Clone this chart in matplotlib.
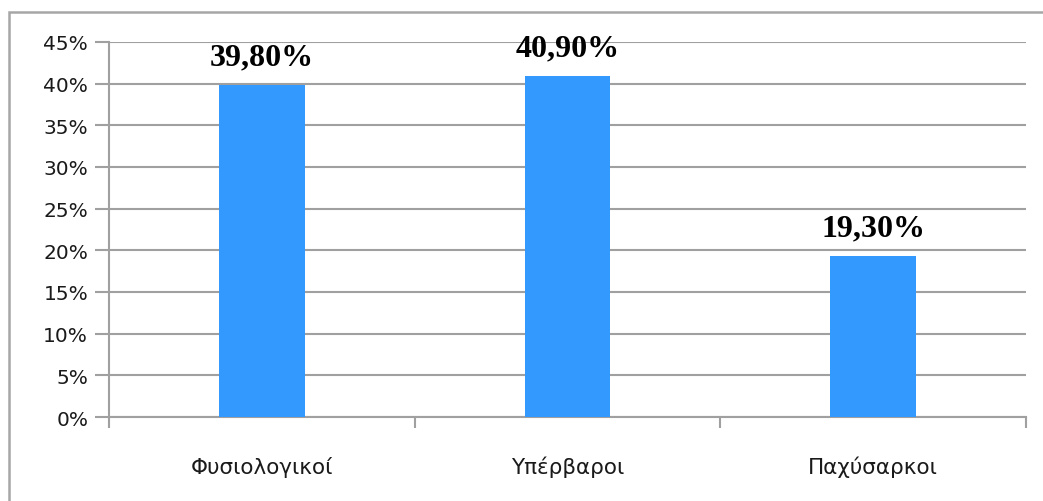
import matplotlib
matplotlib.use('Agg')
import matplotlib.pyplot as plt
from matplotlib.patches import Rectangle
from matplotlib.ticker import MultipleLocator, FuncFormatter, FixedLocator

# categories and shares (percent)
categories = ['Φυσιολογικοί', 'Υπέρβαροι', 'Παχύσαρκοι']
values = [39.8, 40.9, 19.3]
value_labels = ['39,80%', '40,90%', '19,30%']

bar_color = '#3399ff'
grid_color = '#a0a0a0'

fig = plt.figure(figsize=(10.43, 5.02), dpi=100)
ax = fig.add_axes([109 / 1043, 1 - 418 / 502, (1026 - 109) / 1043, (418 - 43) / 502])

# outer frame of the chart area
fig.patches.append(Rectangle((9 / 1043, -0.1), 1.2, 1 - 13 / 502 + 0.1,
                             transform=fig.transFigure, fill=False,
                             edgecolor='#a6a6a6', linewidth=1.8))

x = list(range(len(categories)))
ax.bar(x, values, width=0.28, color=bar_color, zorder=3)

for xi, v, lab in zip(x, values, value_labels):
    ax.annotate(lab, (xi, v), xytext=(0, 15), textcoords='offset points',
                ha='center', va='baseline', fontsize=23, fontweight='bold',
                family='Liberation Serif', color='black')

ax.set_xlim(-0.5, 2.5)
ax.set_ylim(0, 45)
ax.yaxis.set_major_locator(MultipleLocator(5))
ax.yaxis.set_major_formatter(FuncFormatter(lambda v, p: '%d%%' % v))
ax.yaxis.grid(True, color=grid_color, linewidth=1.5, zorder=0)

# category labels between boundary ticks
ax.xaxis.set_major_locator(FixedLocator([-0.5, 0.5, 1.5, 2.5]))
ax.xaxis.set_major_formatter(FuncFormatter(lambda v, p: ''))
ax.xaxis.set_minor_locator(FixedLocator(x))
ax.set_xticklabels(categories, minor=True)
ax.tick_params(axis='x', which='minor', length=0, pad=28, labelsize=15.5, labelcolor='#1a1a1a')
ax.tick_params(axis='x', which='major', length=8, width=1.5, color=grid_color)
ax.tick_params(axis='y', length=10, width=1.5, color=grid_color, labelsize=14.5,
               labelcolor='#1a1a1a', pad=5)

for side in ['top', 'right']:
    ax.spines[side].set_visible(False)
for side in ['left', 'bottom']:
    ax.spines[side].set_color(grid_color)
    ax.spines[side].set_linewidth(1.5)

fig.savefig('out.png', dpi=100)
